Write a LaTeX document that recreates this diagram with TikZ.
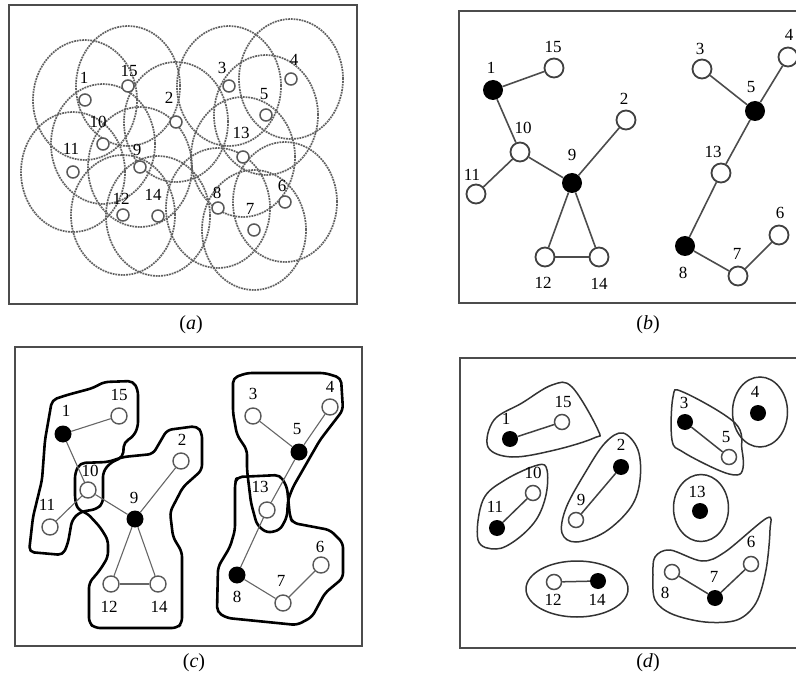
\documentclass[tikz,border=0pt]{standalone}
\usepackage{fontspec}
\setmainfont{Liberation Serif}
\begin{document}
\begin{tikzpicture}[x=1pt,y=-1pt,
  panelframe/.style={draw=black!70,line width=1.3pt},
  numlbl/.style={font=\fontsize{17}{17}\selectfont,inner sep=0pt},
  captxt/.style={font=\fontsize{20}{20}\selectfont,inner sep=0pt},
  rangering/.style={draw=black!62,line width=1.7pt,dash pattern=on 1.8pt off 0.9pt},
  anode/.style={circle,draw=black!65,line width=1.5pt,fill=white,minimum size=12pt,inner sep=0pt},
  bnode/.style={circle,draw=black!75,line width=1.8pt,fill=white,minimum size=19pt,inner sep=0pt},
  bfill/.style={circle,fill=black,minimum size=20pt,inner sep=0pt},
  cnode/.style={circle,draw=black!65,line width=1.4pt,fill=white,minimum size=16pt,inner sep=0pt},
  cfill/.style={circle,fill=black,minimum size=17pt,inner sep=0pt},
  dnode/.style={circle,draw=black!70,line width=1.5pt,fill=white,minimum size=15pt,inner sep=0pt},
  dfill/.style={circle,fill=black,minimum size=16pt,inner sep=0pt},
  bedge/.style={draw=black!70,line width=1.6pt},
  cedge/.style={draw=black!60,line width=1.1pt},
  dedge/.style={draw=black!75,line width=1.5pt},
  hullline/.style={draw=black,line width=2.6pt,rounded corners=5pt,line join=round},
  blobline/.style={draw=black!80,line width=1.5pt}]
\useasboundingbox (0,0) rectangle (796,679);

% ---------- frames ----------
\draw[panelframe] (9,5) rectangle (357,304);
\draw[panelframe] (459,11) rectangle (802,303);
\draw[panelframe] (15,347) rectangle (362,646);
\draw[panelframe] (460,358) rectangle (802,648);

% ---------- captions ----------
\node[captxt] (capa) at (191,325) {(\textit{a})};
\node[captxt] (capb) at (648,325) {(\textit{b})};
\node[captxt] (capc) at (194,663) {(\textit{c})};
\node[captxt] (capd) at (648,663) {(\textit{d})};

% ---------- panel (a) ----------
\foreach \n/\x/\y in {1/85/100,15/128/86,2/176/122,10/103/144,11/73/172,9/140/167,12/123/215,14/158/216,3/229/86,4/291/79,5/266/115,13/243/157,8/218/208,7/254/230,6/285/202}
  \draw[rangering] (\x,\y) ellipse [x radius=52pt,y radius=60pt];
\foreach \n/\x/\y/\lx/\ly in {1/85/100/84/78,15/128/86/129/71,2/176/122/169/98,10/103/144/98/122,11/73/172/71/149,9/140/167/137/150,12/123/215/121/199,14/158/216/153/195,3/229/86/222/68,4/291/79/294/60,5/266/115/264/94,13/243/157/241/133,8/218/208/217/193,7/254/230/250/209,6/285/202/282/186}
{
  \node[anode] (a\n) at (\x,\y) {};
  \node[numlbl] (la\n) at (\lx,\ly) {\n};
}

% ---------- panel (b) ----------
\foreach \n/\x/\y/\lx/\ly/\s in {1/493/90/491/68/bfill,15/554/68/553/47/bnode,2/626/120/624/99/bnode,10/520/152/523/128/bnode,11/476/194/472/175/bnode,9/572/183/572/155/bfill,12/545/257/543/283/bnode,14/599/257/599/284/bnode,3/702/69/700/49/bnode,4/788/57/789/35/bnode,5/755/111/751/87/bfill,13/721/173/713/152/bnode,8/685/246/683/273/bfill,7/738/276/737/254/bnode,6/779/235/780/213/bnode}
{
  \node[\s] (b\n) at (\x,\y) {};
  \node[numlbl] (lb\n) at (\lx,\ly) {\n};
}
\foreach \u/\v in {1/15,1/10,10/11,10/9,9/2,9/12,9/14,12/14,3/5,4/5,5/13,13/8,8/7,7/6}
  \draw[bedge] (b\u) -- (b\v);

% ---------- panel (c) ----------
\draw[hullline] (29,552) -- (33,517) -- (42,480) -- (45,440) -- (52,400) -- (67,395) -- (93,388) -- (104,382) -- (133,381) -- (138,390) -- (138,427) -- (133,437) -- (124,442) -- (123,457) -- (110,463) -- (103,472) -- (103,503) -- (97,509) -- (80,512) -- (72,520) -- (68,543) -- (63,555) -- cycle;
\draw[hullline] (123,457) -- (153,454) -- (167,430) -- (197,426) -- (202,433) -- (202,470) -- (183,487) -- (170,512) -- (173,537) -- (182,552) -- (182,623) -- (177,628) -- (95,628) -- (89,623) -- (89,583) -- (100,570) -- (108,557) -- (108,540) -- (100,527) -- (87,513) -- (78,510) -- (75,500) -- (75,473) -- (80,463) -- (108,462) -- cycle;
\draw[hullline] (233,378) -- (247,373) -- (325,373) -- (341,378) -- (343,410) -- (320,440) -- (293,487) -- (288,500) -- (287,517) -- (280,530) -- (267,533) -- (257,525) -- (251,503) -- (247,470) -- (247,450) -- (237,435) -- (233,413) -- cycle;
\draw[hullline] (237,477) -- (280,475) -- (287,487) -- (290,517) -- (293,523) -- (330,530) -- (343,543) -- (343,578) -- (325,593) -- (312,617) -- (297,625) -- (227,618) -- (217,612) -- (218,567) -- (230,547) -- (235,530) -- (235,483) -- cycle;
\foreach \n/\x/\y/\lx/\ly/\s in {1/63/434/66/411/cfill,15/119/416/119/395/cnode,2/181/461/182/440/cnode,10/88/490/90/471/cnode,11/50/527/47/505/cnode,9/135/519/134/498/cfill,12/111/584/109/607/cnode,14/158/584/159/607/cnode,3/253/416/253/394/cnode,4/330/407/330/387/cnode,5/299/452/297/429/cfill,13/267/510/260/487/cnode,8/237/575/237/597/cfill,7/283/603/281/581/cnode,6/321/565/320/547/cnode}
{
  \node[\s] (c\n) at (\x,\y) {};
  \node[numlbl] (lc\n) at (\lx,\ly) {\n};
}
\foreach \u/\v in {1/15,1/10,10/11,10/9,9/2,9/12,9/14,12/14,3/5,4/5,5/13,13/8,8/7,7/6}
  \draw[cedge] (c\u) -- (c\v);

% ---------- panel (d) ----------
\draw[blobline] plot[smooth cycle,tension=0.6] coordinates {(488,447) (494,420) (522,403) (552,385) (572,387) (598,430) (594,438) (555,450) (512,457)};
\draw[blobline] plot[smooth cycle,tension=0.6] coordinates {(478,540) (483,500) (505,480) (538,465) (547,470) (546,495) (536,520) (516,540) (496,549)};
\draw[blobline] plot[smooth cycle,tension=0.6] coordinates {(562,533) (566,508) (585,473) (605,443) (623,433) (638,450) (640,480) (631,507) (605,532) (576,542)};
\draw[blobline] (577,589) ellipse [x radius=51pt,y radius=28pt];
\draw[blobline] plot[smooth cycle,tension=0.6] coordinates {(672,440) (673,397) (683,392) (735,423) (742,450) (743,468) (737,475) (718,470) (683,452)};
\draw[blobline] (760,412) ellipse [x radius=27.5pt,y radius=35pt];
\draw[blobline] (701,508) ellipse [x radius=27.5pt,y radius=33.5pt];
\draw[blobline] plot[smooth cycle,tension=0.55] coordinates {(655,557) (670,550) (702,561) (725,552) (767,518) (770,530) (766,570) (756,603) (737,620) (705,622) (672,614) (655,600) (653,575)};
\foreach \n/\x/\y/\lx/\ly/\s in {1/510/439/506/419/dfill,15/562/422/563/402/dnode,2/621/467/621/445/dfill,9/576/520/581/500/dnode,10/533/493/533/473/dnode,11/497/528/495/507/dfill,12/554/582/553/600/dnode,14/598/581/597/600/dfill,3/685/422/684/403/dfill,5/729/457/726/437/dnode,4/758/413/755/392/dfill,13/700/511/697/492/dfill,8/672/572/665/593/dnode,7/715/598/714/577/dfill,6/751/564/751/542/dnode}
{
  \node[\s] (d\n) at (\x,\y) {};
  \node[numlbl] (ld\n) at (\lx,\ly) {\n};
}
\foreach \u/\v in {1/15,11/10,9/2,12/14,3/5,8/7,7/6}
  \draw[dedge] (d\u) -- (d\v);
\end{tikzpicture}
\end{document}
